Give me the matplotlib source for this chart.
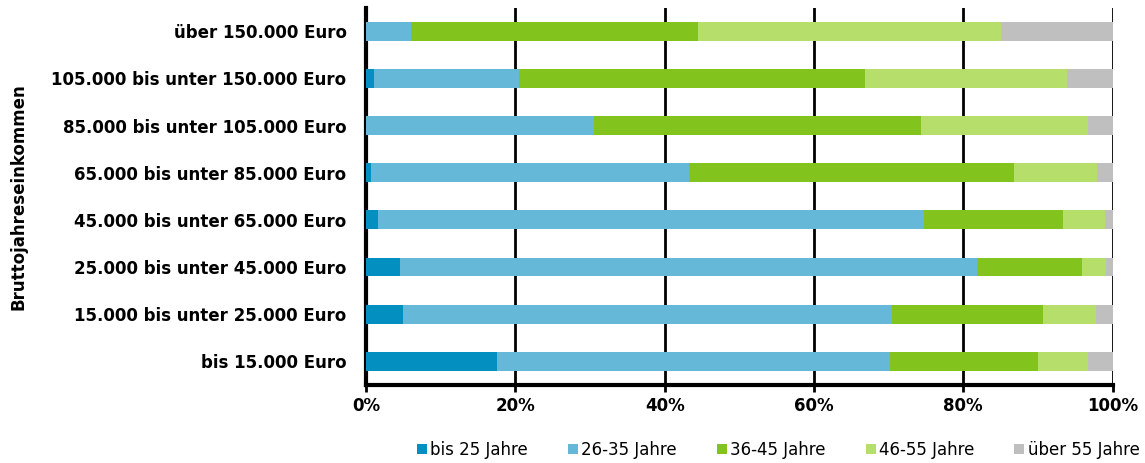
import numpy as np
import matplotlib.pyplot as plt

# income brackets, top to bottom as in the chart
categories = [
    "über 150.000 Euro",
    "105.000 bis unter 150.000 Euro",
    "85.000 bis unter 105.000 Euro",
    "65.000 bis unter 85.000 Euro",
    "45.000 bis unter 65.000 Euro",
    "25.000 bis unter 45.000 Euro",
    "15.000 bis unter 25.000 Euro",
    "bis 15.000 Euro",
]
age_groups = ["bis 25 Jahre", "26-35 Jahre", "36-45 Jahre", "46-55 Jahre", "über 55 Jahre"]

# shares in percent per age group
bis_25 = [0.0, 1.1, 0.0, 0.7, 1.6, 4.5, 5.0, 17.5]
j26_35 = [6.0, 19.4, 30.6, 42.6, 73.2, 77.3, 65.5, 52.7]
j36_45 = [38.5, 46.4, 43.8, 43.5, 18.5, 14.1, 20.2, 19.8]
j46_55 = [40.5, 27.0, 22.3, 11.1, 5.7, 3.2, 7.1, 6.7]
ueber_55 = [15.0, 6.1, 3.3, 2.1, 1.0, 0.9, 2.2, 3.3]

colors = ["#038fbf", "#66b8d8", "#82c31d", "#b5de6b", "#bfbfbf"]

plt.rcParams['font.family'] = ['DejaVu Sans']

fig = plt.figure(figsize=(11.45, 4.63), dpi=100)
ax = fig.add_axes([0.3197, 0.1685, 0.652, 0.815])

series = [bis_25, j26_35, j36_45, j46_55, ueber_55]
y = np.arange(len(categories))[::-1]
left = np.zeros(len(categories))
for vals, name, col in zip(series, age_groups, colors):
    vals = np.array(vals)
    ax.barh(y, vals, left=left, height=0.4, color=col, label=name, zorder=3)
    left += vals

ax.set_xlim(0, 100)
ax.set_ylim(-0.5, len(categories) - 0.5)
ax.set_xticks([0, 20, 40, 60, 80, 100])
ax.set_xticklabels(["0%", "20%", "40%", "60%", "80%", "100%"], fontweight='bold', fontsize=12)
ax.set_yticks(y)
ax.set_yticklabels(categories, fontweight='bold', fontsize=12)
ax.tick_params(axis='y', length=0, pad=14)
ax.tick_params(axis='x', length=5, width=2, direction='out', pad=4)

ax.grid(axis='x', color='black', linewidth=2, zorder=1)
for s in ['top', 'right']:
    ax.spines[s].set_visible(False)
ax.spines['left'].set_linewidth(3)
ax.spines['bottom'].set_linewidth(3)

fig.text(0.016, 0.575, "Bruttojahreseinkommen", rotation=90, fontweight='bold',
         fontsize=12, ha='center', va='center')

leg = ax.legend(loc='center', bbox_to_anchor=(0.552, -0.172), ncol=5, frameon=False,
                fontsize=12, handlelength=0.6, handleheight=0.6, handletextpad=0.2,
                columnspacing=2.4)

plt.savefig('out.png')
